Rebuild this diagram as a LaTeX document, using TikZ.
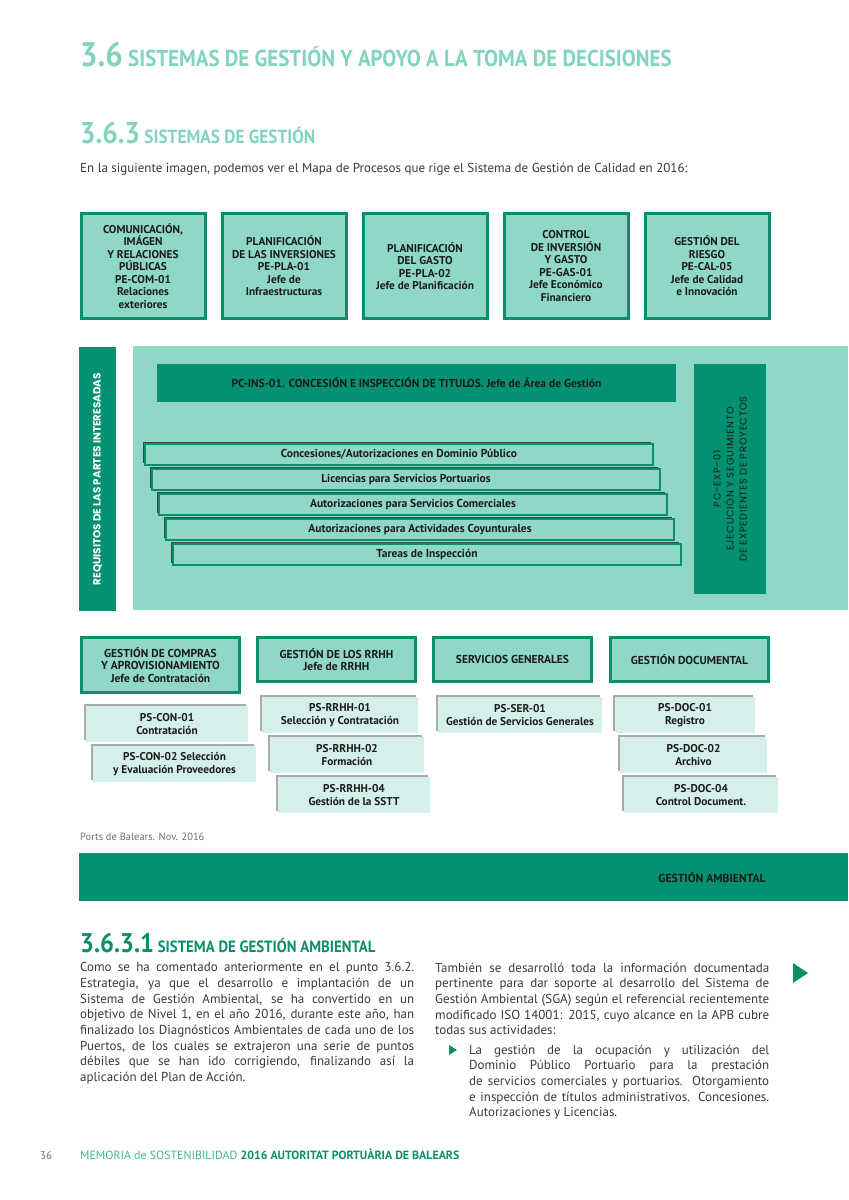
\documentclass[tikz,border=0pt]{standalone}
\usepackage{fontspec}
\setmainfont{PT Sans}
\newfontfamily\headfont[FakeStretch=0.91]{PT Sans}
\newfontfamily\widefont{Poppins}
\usetikzlibrary{shadows}
\definecolor{ink}{HTML}{1B1B1B}
\definecolor{body}{HTML}{3A3A3A}
\definecolor{muted}{HTML}{707070}
\definecolor{mint}{HTML}{8FD8C8}
\definecolor{pale}{HTML}{D5F0EA}
\definecolor{forest}{HTML}{039171}
\definecolor{edge}{HTML}{0A8E6D}
\definecolor{aqua}{HTML}{82D3C0}
\definecolor{sea}{HTML}{3DB79C}
\newcommand{\fullline}[2][334pt]{\makebox[#1][s]{#2}}
\tikzset{
  basebox/.style={align=center,inner sep=0pt,text=ink},
  topbox/.style={basebox,draw=edge,line width=3pt,fill=mint,minimum width=124pt,minimum height=105pt,font=\bfseries\fontsize{11.3}{12.5}\selectfont},
  headbox/.style={basebox,draw=edge,line width=3pt,fill=mint,minimum width=158pt,font=\bfseries\fontsize{11.5}{12.5}\selectfont},
  barbox/.style={basebox,fill=forest,font=\bfseries\fontsize{11.5}{12.5}\selectfont},
  stairbox/.style={basebox,draw=edge,line width=2pt,fill=mint,minimum width=508pt,minimum height=21pt,font=\bfseries\fontsize{11.5}{12}\selectfont,drop shadow={shadow xshift=-2.5pt,shadow yshift=2.5pt,fill=black,opacity=0.65}},
  subbox/.style={basebox,fill=pale,minimum height=36pt,font=\bfseries\fontsize{11.3}{13}\selectfont,drop shadow={shadow xshift=-2.5pt,shadow yshift=2.5pt,fill=black!60,opacity=0.55}},
  para/.style={inner sep=0pt,align=left,text=body,font=\fontsize{13}{15.65}\selectfont}
}
\begin{document}
\begin{tikzpicture}[
    x=1pt,y=-1pt,
    head/.style={inner sep=0pt,anchor=base west,text=aqua,font=\headfont\bfseries\fontsize{23}{23}\selectfont},
    note/.style={inner sep=0pt,anchor=base west,text=body,font=\fontsize{13}{14}\selectfont}
  ]
  \useasboundingbox[fill=white] (0,0) rectangle (849,1200);

  % titulos
  \node[head] (sec) at (80,66) {{\fontsize{34}{34}\selectfont 3.6} SISTEMAS DE GESTIÓN Y APOYO A LA TOMA DE DECISIONES};
  \node[head,font=\headfont\bfseries\fontsize{19}{19}\selectfont] (subsec) at (80,143) {{\fontsize{30}{30}\selectfont 3.6.3} SISTEMAS DE GESTIÓN};
  \node[note] (intro) at (80,172) {En la siguiente imagen, podemos ver el Mapa de Procesos que rige el Sistema de Gestión de Calidad en 2016:};

  % procesos estrategicos
  \foreach \x/\n/\txt in {143/com/{COMUNICACIÓN,\\IMÁGEN\\Y RELACIONES\\PÚBLICAS\\PE-COM-01\\Relaciones\\exteriores},
                          284/inv/{PLANIFICACIÓN\\DE LAS INVERSIONES\\PE-PLA-01\\Jefe de\\Infraestructuras},
                          425/gasto/{PLANIFICACIÓN\\DEL GASTO\\PE-PLA-02\\Jefe de Planificación},
                          566/ctrl/{CONTROL\\DE INVERSIÓN\\Y GASTO\\PE-GAS-01\\Jefe Económico\\Financiero},
                          707/riesgo/{GESTIÓN DEL\\RIESGO\\PE-CAL-05\\Jefe de Calidad\\e Innovación}}
    \node[topbox] (\n) at (\x,266) {\txt};

  % procesos clave
  \node[fill=mint,inner sep=0pt,minimum width=715pt,minimum height=264pt] (panel) at (490.5,478) {};
  \node[barbox,rotate=90,minimum width=264pt,minimum height=37pt,text=white,font=\widefont\bfseries\fontsize{10.4}{10}\selectfont] (req) at (97.5,479) {REQUISITOS DE LAS PARTES INTERESADAS};
  \node[barbox,minimum width=519pt,minimum height=38pt] (ins) at (416.5,383) {PC-INS-01. CONCESIÓN E INSPECCIÓN DE TITULOS. Jefe de Área de Gestión};
  \node[barbox,rotate=90,minimum width=230pt,minimum height=72pt,font=\widefont\addfontfeature{LetterSpace=8}\fontsize{9.8}{13}\selectfont] (exp) at (730,479) {PC-EXP-01\\EJECUCIÓN Y SEGUIMIENTO\\DE EXPEDIENTES DE PROYECTOS};

  \foreach \i/\lab in {0/{Concesiones/Autorizaciones en Dominio Público},
                       1/{Licencias para Servicios Portuarios},
                       2/{Autorizaciones para Servicios Comerciales},
                       3/{Autorizaciones para Actividades Coyunturales},
                       4/{Tareas de Inspección}}
    \node[stairbox] (tit\i) at (399+7*\i,454.5+25*\i) {\lab};

  % procesos de soporte
  \node[headbox,minimum height=55pt] (compras) at (160.5,665) {GESTIÓN DE COMPRAS\\Y APROVISIONAMIENTO\\Jefe de Contratación};
  \node[headbox,minimum height=44pt] (rrhh) at (336.5,659.5) {GESTIÓN DE LOS RRHH\\Jefe de RRHH};
  \node[headbox,minimum height=44pt] (ser) at (512.5,659.5) {SERVICIOS GENERALES};
  \node[headbox,minimum height=44pt] (doc) at (689.5,659.5) {GESTIÓN DOCUMENTAL};

  \foreach \x/\y/\w/\n/\txt in {167/724/162/con1/{PS-CON-01\\Contratación},
                                174.5/764/163/con2/{PS-CON-02 Selección\\y Evaluación Proveedores},
                                340/715/156/rrhh1/{PS-RRHH-01\\Selección y Contratación},
                                347/755/154/rrhh2/{PS-RRHH-02\\Formación},
                                354/795/152/rrhh4/{PS-RRHH-04\\Gestión de la SSTT},
                                520/715/164/ser1/{PS-SER-01\\Gestión de Servicios Generales},
                                685/715/140/doc1/{PS-DOC-01\\Registro},
                                693.5/755/147/doc2/{PS-DOC-02\\Archivo},
                                701/795/154/doc4/{PS-DOC-04\\Control Document.}}
    \node[subbox,minimum width=\w pt] (\n) at (\x,\y) {\txt};

  \node[note,text=muted,font=\fontsize{10.5}{11}\selectfont] (fuente) at (80,840) {Ports de Balears. Nov. 2016};

  \node[barbox,minimum width=769pt,minimum height=48pt] (amb) at (463.5,877) {};
  \node[basebox,font=\bfseries\fontsize{11.7}{12}\selectfont] (ambtxt) at (712,877) {GESTIÓN AMBIENTAL};

  % sistema de gestion ambiental
  \node[head,text=edge,font=\headfont\bfseries\fontsize{16.3}{16.3}\selectfont] (subsub) at (80,952) {{\fontsize{27}{27}\selectfont 3.6.3.1} SISTEMA DE GESTIÓN AMBIENTAL};

  \node[para,anchor=north west] (izq) at (80,962.5) {%
    \fullline{Como se ha comentado anteriormente en el punto 3.6.2.}\\
    \fullline{Estrategia, ya que el desarrollo e implantación de un}\\
    \fullline{Sistema de Gestión Ambiental, se ha convertido en un}\\
    \fullline{objetivo de Nivel 1, en el año 2016, durante este año, han}\\
    \fullline{finalizado los Diagnósticos Ambientales de cada uno de los}\\
    \fullline{Puertos, de los cuales se extrajeron una serie de puntos}\\
    \fullline{débiles que se han ido corrigiendo, finalizando así la}\\
    aplicación del Plan de Acción.};

  \node[para,anchor=north west] (der) at (435,962.5) {%
    \fullline{También se desarrolló toda la información documentada}\\
    \fullline{pertinente para dar soporte al desarrollo del Sistema de}\\
    \fullline{Gestión Ambiental (SGA) según el referencial recientemente}\\
    \fullline{modificado ISO 14001: 2015, cuyo alcance en la APB cubre}\\
    todas sus actividades:};

  \node[para,anchor=north west] (vineta) at (469,1044.5) {%
    \fullline[300pt]{La gestión de la ocupación y utilización del}\\
    \fullline[300pt]{Dominio Público Portuario para la prestación}\\
    \fullline[300pt]{de servicios comerciales y portuarios. Otorgamiento}\\
    \fullline[300pt]{e inspección de títulos administrativos. Concesiones.}\\
    Autorizaciones y Licencias.};
  \fill[edge] (449,1045) -- (457,1050) -- (449,1055) -- cycle;
  \fill[edge] (793,963) -- (808,973) -- (793,983) -- cycle;

  % pie
  \node[note,text=muted,font=\fontsize{11}{11}\selectfont] (pag) at (40,1159) {36};
  \node[note,font=\fontsize{11.9}{11.9}\selectfont] (pie) at (80,1159) {{\color{sea}MEMORIA de SOSTENIBILIDAD} {\bfseries\color{edge}2016 AUTORITAT PORTUÀRIA DE BALEARS}};
\end{tikzpicture}
\end{document}
